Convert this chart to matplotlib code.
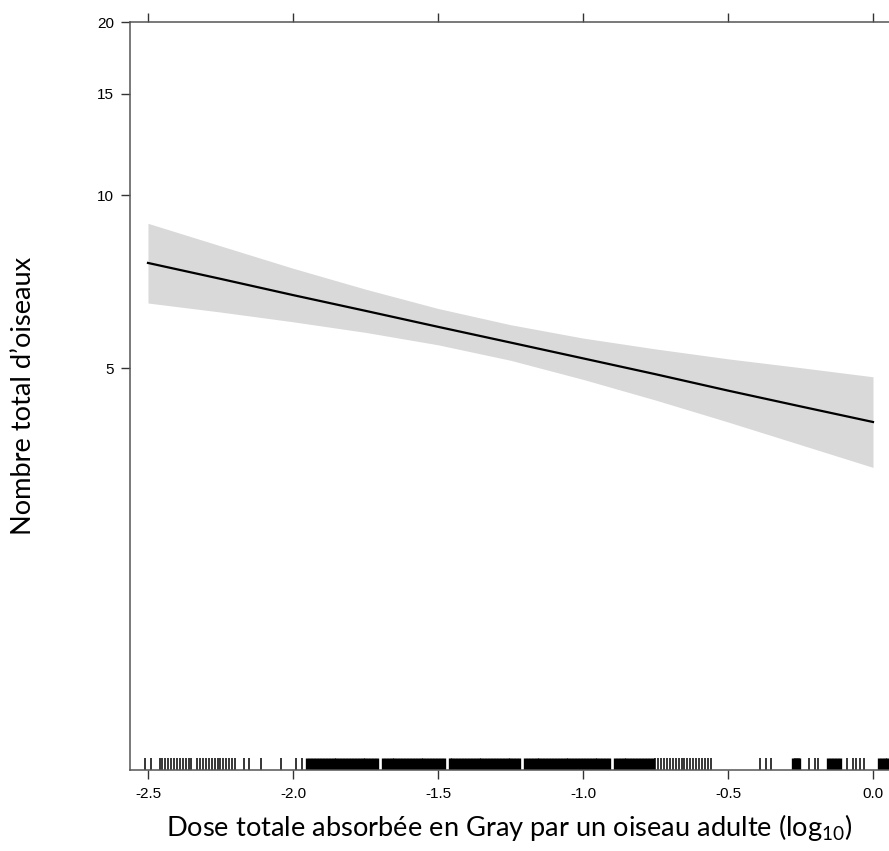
import numpy as np
import matplotlib.pyplot as plt
import matplotlib.transforms as mtransforms

plt.rcParams['mathtext.fontset'] = 'custom'
plt.rcParams['mathtext.rm'] = 'Lato'

# effet de la dose (log10) sur le nombre total d'oiseaux, avec IC
dose = [-2.5, -2.25, -2.0, -1.75, -1.5, -1.25, -1.0, -0.75, -0.5, -0.25, 0.0]
fit = [7.62, 7.15, 6.70, 6.29, 5.90, 5.54, 5.20, 4.88, 4.57, 4.29, 4.03]
ci_low = [6.49, 6.26, 6.02, 5.77, 5.49, 5.16, 4.78, 4.40, 4.03, 3.68, 3.36]
ci_high = [8.93, 8.16, 7.46, 6.86, 6.35, 5.95, 5.64, 5.40, 5.19, 5.01, 4.83]

# rug des observations (lecture approximative)
rug_sparse = [-2.51, -2.49, -2.46, -2.45, -2.44, -2.43, -2.42, -2.41, -2.40,
              -2.39, -2.38, -2.37, -2.36, -2.35, -2.33, -2.32, -2.31, -2.30,
              -2.29, -2.28, -2.27, -2.26, -2.25, -2.24, -2.23, -2.22, -2.21,
              -2.20, -2.17, -2.15, -2.11, -2.04, -1.99, -1.97,
              -0.75, -0.74, -0.73, -0.72, -0.71, -0.70, -0.69, -0.68, -0.67,
              -0.66, -0.65, -0.64, -0.63, -0.62, -0.61, -0.60, -0.59, -0.58,
              -0.57, -0.56, -0.39, -0.37, -0.35, -0.22, -0.20, -0.19,
              -0.09, -0.07, -0.06, -0.045, -0.03]
rug_dense = [-1.95, -1.94, -1.93, -1.92, -1.91, -1.90, -1.89, -1.88, -1.87,
             -1.86, -1.85, -1.84, -1.83, -1.82, -1.81, -1.80, -1.79, -1.78,
             -1.77, -1.76, -1.75, -1.74, -1.73, -1.72, -1.71, -1.69, -1.68,
             -1.67, -1.66, -1.65, -1.64, -1.63, -1.62, -1.61, -1.60, -1.59,
             -1.58, -1.57, -1.56, -1.55, -1.54, -1.53, -1.52, -1.51, -1.50,
             -1.49, -1.48, -1.46, -1.45, -1.44, -1.43, -1.42, -1.41, -1.40,
             -1.39, -1.38, -1.37, -1.36, -1.35, -1.34, -1.33, -1.32, -1.31,
             -1.30, -1.29, -1.28, -1.27, -1.26, -1.25, -1.24, -1.23, -1.22,
             -1.20, -1.19, -1.18, -1.17, -1.16, -1.15, -1.14, -1.13, -1.12,
             -1.11, -1.10, -1.09, -1.08, -1.07, -1.06, -1.05, -1.04, -1.03,
             -1.02, -1.01, -1.00, -0.99, -0.98, -0.97, -0.96, -0.95, -0.94,
             -0.93, -0.92, -0.91, -0.89, -0.88, -0.87, -0.86, -0.85, -0.84,
             -0.83, -0.82, -0.81, -0.80, -0.79, -0.78, -0.77, -0.76,
             -0.275, -0.27, -0.265, -0.26, -0.255,
             -0.155, -0.145, -0.135, -0.125, -0.115,
             0.02, 0.03, 0.04, 0.05, 0.06]

x_ticks = [-2.5, -2.0, -1.5, -1.0, -0.5, 0.0]
y_ticks = [5, 10, 15, 20]

fig = plt.figure(figsize=(8.89, 8.51), dpi=100)
ax = fig.add_axes([130 / 889, 1 - 770 / 851, 1 - 130 / 889, (770 - 22) / 851])

ax.fill_between(dose, ci_low, ci_high, color='#d9d9d9', lw=0)
ax.plot(dose, fit, color='black', lw=1.6)

# rug en bas de l'axe
trans = mtransforms.blended_transform_factory(ax.transData, ax.transAxes)
ax.vlines(rug_sparse, 0, 0.016, transform=trans, color='black', lw=1.1)
ax.vlines(rug_dense, 0, 0.016, transform=trans, color='black', lw=2.4)

ax.set_yscale('log')
ax.set_ylim(1, 20)
ax.set_xlim(-2.562, 0.0552)
ax.set_yticks(y_ticks)
ax.set_yticklabels([str(v) for v in y_ticks])
ax.yaxis.set_minor_locator(plt.NullLocator())
ax.set_xticks(x_ticks)
ax.set_xticklabels([f'{v:.1f}' for v in x_ticks])

for side in ['left', 'bottom', 'top']:
    ax.spines[side].set_color('#555555')
    ax.spines[side].set_linewidth(1.1)
ax.spines['right'].set_visible(False)

ax.tick_params(axis='both', direction='out', length=6.5, width=1, color='#333333',
               labelsize=11, labelfontfamily='Liberation Sans')
ax.tick_params(axis='x', top=True, pad=6)
ax.tick_params(axis='y', pad=5)

ax.set_xlabel('Dose totale absorbée en Gray par un oiseau adulte (log$_{\\mathrm{10}}$)',
              fontsize=19.6, family='Lato', labelpad=8)
ax.set_ylabel('Nombre total d\u2019oiseaux', fontsize=19.6, family='Lato', labelpad=44)

plt.savefig('out.png')
